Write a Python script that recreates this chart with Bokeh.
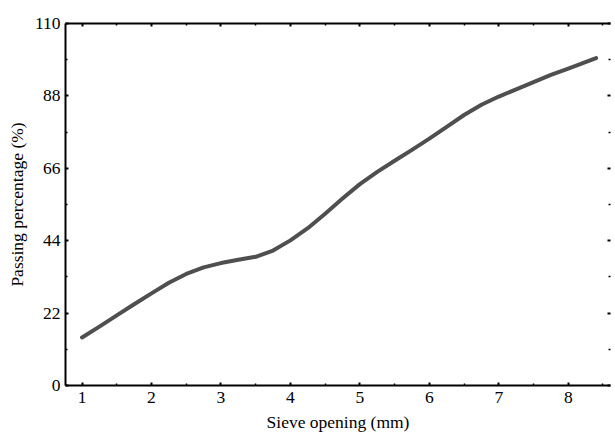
from bokeh.plotting import figure
from bokeh.models import Range1d, FixedTicker, LinearAxis, CustomLabelingPolicy
from bokeh.embed import file_html
from bokeh.resources import INLINE

# Data
sieve_mm = [1, 1.25, 1.5, 1.75, 2, 2.25, 2.5, 2.75, 3, 3.25, 3.5, 3.75, 4, 4.25, 4.5,
            4.75, 5, 5.25, 5.5, 5.75, 6, 6.25, 6.5, 6.75, 7, 7.25, 7.5, 7.75, 8, 8.2, 8.4]
passing_pct = [14.6, 17.9, 21.3, 24.7, 28.0, 31.2, 33.9, 35.9, 37.2, 38.2, 39.1, 41.0, 44.1,
               47.8, 52.2, 56.8, 61.2, 64.9, 68.3, 71.6, 75.0, 78.6, 82.2, 85.3, 87.8,
               90.0, 92.2, 94.4, 96.3, 97.9, 99.5]
x_ticks = [1, 2, 3, 4, 5, 6, 7, 8]
x_minor = [1.5, 2.5, 3.5, 4.5, 5.5, 6.5, 7.5, 8.5]
y_ticks = [0, 22, 44, 66, 88, 110]
y_minor = [11, 33, 55, 77, 99]

FONT = "Liberation Serif"
FS = "17.5px"

p = figure(width=615, height=439, output_backend="svg", toolbar_location=None,
           x_range=Range1d(0.762, 8.608), y_range=Range1d(0, 110),
           min_border_left=65, min_border_right=0, min_border_top=23, min_border_bottom=54)
p.outline_line_color = None
p.xgrid.grid_line_color = None
p.ygrid.grid_line_color = None
p.background_fill_color = "white"
p.border_fill_color = "white"

p.line(sieve_mm, passing_pct, line_color="#4f4f4f", line_width=4, line_cap="round", line_join="round")

no_labels = "for (const i of Array.from(indices)) { indices.unset(i) } return indices"

def style(ax, ticks, minor, labels=True):
    ax.ticker = FixedTicker(ticks=ticks, minor_ticks=minor)
    ax.axis_line_color = "black"
    ax.axis_line_width = 2
    ax.major_tick_in = 3
    ax.major_tick_out = 0
    ax.major_tick_line_width = 2
    ax.minor_tick_in = 2
    ax.minor_tick_out = 0
    ax.minor_tick_line_width = 1.5
    ax.major_tick_line_color = "black"
    ax.minor_tick_line_color = "black"
    if labels:
        ax.major_label_text_font = FONT
        ax.major_label_text_font_size = FS
        ax.major_label_text_color = "black"
        ax.axis_label_text_font = FONT
        ax.axis_label_text_font_size = FS
        ax.axis_label_text_font_style = "normal"
        ax.axis_label_text_color = "black"
    else:
        ax.major_label_text_font_size = "1px"
        ax.major_label_standoff = 0
        ax.major_label_policy = CustomLabelingPolicy(code=no_labels)

xa = p.xaxis[0]
style(xa, x_ticks, x_minor)
xa.axis_label = "Sieve opening (mm)"
xa.major_label_standoff = 6
xa.axis_label_standoff = 6

ya = p.yaxis[0]
style(ya, y_ticks, y_minor)
ya.axis_label = "Passing percentage (%)"
ya.major_label_standoff = 5
ya.axis_label_standoff = 5

top = LinearAxis()
style(top, x_ticks, x_minor, labels=False)
p.add_layout(top, "above")

right = LinearAxis()
style(right, y_ticks, y_minor, labels=False)
right.axis_line_color = None
p.add_layout(right, "right")

open("out.html", "w").write(file_html(p, INLINE))
